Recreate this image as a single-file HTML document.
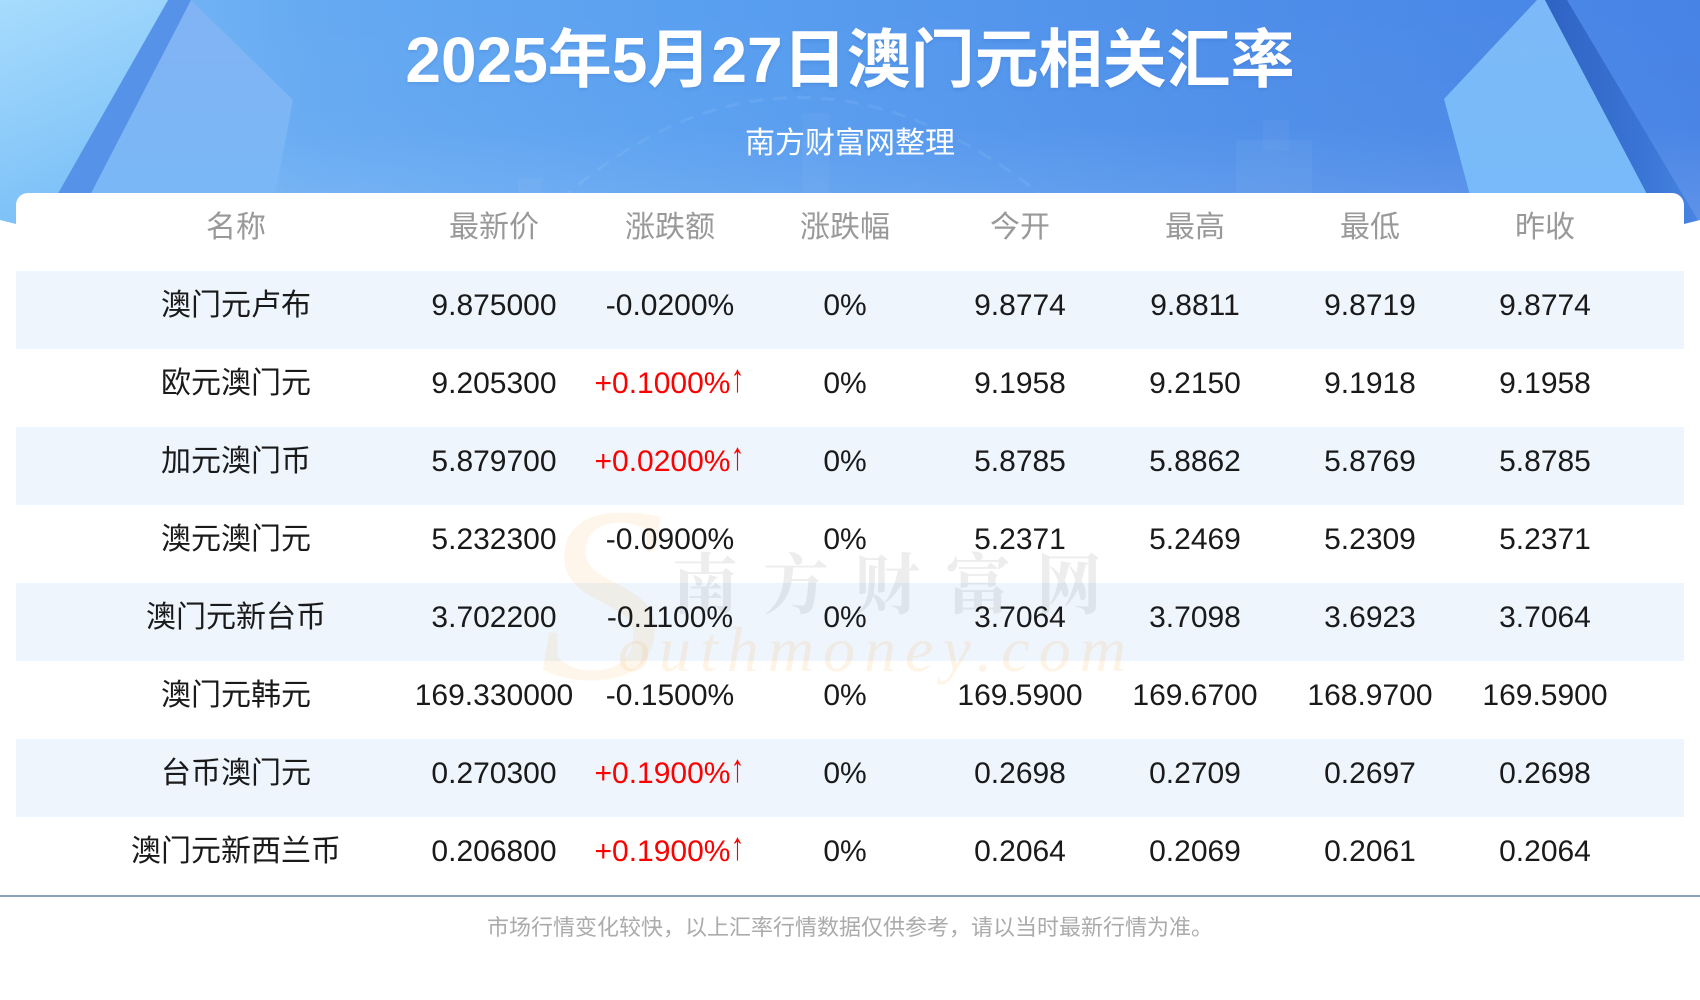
<!DOCTYPE html>
<html>
<head>
<meta charset="utf-8">
<style>
  html, body { margin:0; padding:0; }
  body { width:1700px; height:1000px; position:relative; overflow:hidden; background:#fff;
         font-family:"Liberation Sans","Noto Sans CJK SC",sans-serif; }
  .abs { position:absolute; }
  #title { left:0; width:1700px; top:22px; text-align:center; color:#fff; font-weight:bold;
           font-size:64px; line-height:76px; white-space:nowrap;
           font-family:"Liberation Sans","Noto Sans CJK SC",sans-serif;
           text-shadow:0 2px 3px rgba(20,60,140,0.12); }
  #sub { left:0; width:1700px; top:124px; text-align:center; color:#fff; font-size:30px; line-height:40px;
         font-family:"Liberation Sans","Noto Sans CJK SC",sans-serif; }
  #card { left:16px; top:193px; width:1668px; height:710px; background:#fff; border-radius:12px 12px 0 0; }
  .rowbg { position:absolute; left:16px; width:1668px; height:78px; background:#eef5fd; }
  .row { position:absolute; left:0; width:1700px; height:78px; }
  .c { position:absolute; top:0; width:240px; text-align:center; white-space:nowrap;
       font-size:30px; line-height:70px; color:#1a1a1a; }
  .hd .c { color:#999; }
  .red { color:#ff0000 !important; }
  .ar { display:inline-block; transform:scale(0.9,1.3); transform-origin:50% 70%; }
  .c1 { left:116px; } .c2 { left:374px; } .c3 { left:550px; } .c4 { left:725px; }
  .c5 { left:900px; } .c6 { left:1075px; } .c7 { left:1250px; } .c8 { left:1425px; }
  #line { left:0; top:895px; width:1700px; height:2px; background:#8ba1ba; }
  #foot { left:0; width:1700px; top:906px; height:44px; line-height:44px; text-align:center;
          font-size:22px; color:#ababab; white-space:nowrap; }
  .wm1 { left:672px; top:540px; font-size:66px; letter-spacing:25px; color:rgba(90,90,90,0.11);
         font-family:"Noto Serif CJK SC","Noto Sans CJK SC",serif; font-weight:bold; line-height:80px; white-space:nowrap; }
  .wm2 { left:618px; top:610px; font-size:64px; letter-spacing:9px; color:rgba(250,170,60,0.13);
         font-family:"Liberation Serif",serif; font-style:italic; line-height:80px; white-space:nowrap; }
  .wm3 { left:540px; top:465px; font-size:250px; color:rgba(250,170,60,0.11);
         font-family:"Liberation Serif",serif; font-style:italic; line-height:260px; }
</style>
</head>
<body>
<svg class="abs" style="left:0;top:0" width="1700" height="232" viewBox="0 0 1700 232">
  <defs>
    <linearGradient id="bg" x1="0" y1="0" x2="1" y2="0">
      <stop offset="0" stop-color="#7fc0f7"/>
      <stop offset="0.18" stop-color="#66aaf2"/>
      <stop offset="0.4" stop-color="#5aa0f0"/>
      <stop offset="0.7" stop-color="#4f90ea"/>
      <stop offset="1" stop-color="#4783e5"/>
    </linearGradient>
    <linearGradient id="haze" x1="0" y1="0" x2="0" y2="1">
      <stop offset="0" stop-color="#ffffff" stop-opacity="0"/>
      <stop offset="0.55" stop-color="#ffffff" stop-opacity="0.02"/>
      <stop offset="1" stop-color="#ffffff" stop-opacity="0.14"/>
    </linearGradient>
    <linearGradient id="ll" x1="0" y1="0" x2="0.3" y2="1">
      <stop offset="0" stop-color="#a7dcfd"/>
      <stop offset="1" stop-color="#79bef7"/>
    </linearGradient>
    <linearGradient id="band" x1="0" y1="0" x2="0" y2="1">
      <stop offset="0" stop-color="#82b3f4"/>
      <stop offset="1" stop-color="#78b8f6"/>
    </linearGradient>
    <linearGradient id="rl" x1="0" y1="0" x2="0" y2="1">
      <stop offset="0" stop-color="#7db9f8"/>
      <stop offset="1" stop-color="#77bbf9"/>
    </linearGradient>
    <linearGradient id="ds" x1="0" y1="0" x2="1" y2="0">
      <stop offset="0" stop-color="#2f63c3"/>
      <stop offset="0.6" stop-color="#3a74d4"/>
      <stop offset="1" stop-color="#4a87e5"/>
    </linearGradient>
  </defs>
  <rect x="0" y="0" width="1700" height="232" fill="url(#bg)"/>
  <rect x="0" y="0" width="1700" height="232" fill="url(#haze)"/>
  <rect x="802" y="113" width="27" height="90" fill="#ffffff" opacity="0.04"/>
  <rect x="1236" y="140" width="76" height="60" fill="#ffffff" opacity="0.04"/>
  <rect x="1263" y="120" width="26" height="30" fill="#ffffff" opacity="0.035"/>
  <rect x="518" y="178" width="24" height="30" fill="#ffffff" opacity="0.04"/>
  <path d="M560 200 Q 800 -10 1060 210" fill="none" stroke="#ffffff" stroke-opacity="0.07" stroke-width="3" stroke-dasharray="14 10"/>
  <polygon points="191,0 293,100 268,232 71,232" fill="url(#band)"/>
  <polygon points="168,0 191,0 71,232 36,232" fill="#5592e8"/>
  <polygon points="0,0 168,0 36,232 0,232" fill="url(#ll)"/>
  <polygon points="1537,0 1545,0 1667,232 1480,232 1444,99" fill="url(#rl)"/>
  <polygon points="1545,0 1567,0 1705,232 1667,232" fill="url(#ds)"/>
  <polygon points="0,220 16,224 16,232 0,232" fill="#ffffff"/>
  <polygon points="1684,224 1700,220 1700,232 1684,232" fill="#ffffff"/>
</svg>

<div id="title" class="abs">2025年5月27日澳门元相关汇率</div>
<div id="sub" class="abs">南方财富网整理</div>

<div id="card" class="abs"></div>

<div class="rowbg" style="top:271px"></div>
<div class="rowbg" style="top:427px"></div>
<div class="rowbg" style="top:583px"></div>
<div class="rowbg" style="top:739px"></div>

<div class="abs wm3">S</div>
<div class="abs wm1">南方财富网</div>
<div class="abs wm2">outhmoney.com</div>

<div class="row hd" style="top:193px">
  <div class="c c1">名称</div><div class="c c2">最新价</div><div class="c c3">涨跌额</div><div class="c c4">涨跌幅</div>
  <div class="c c5">今开</div><div class="c c6">最高</div><div class="c c7">最低</div><div class="c c8">昨收</div>
</div>

<div class="row" style="top:271px">
  <div class="c c1">澳门元卢布</div><div class="c c2">9.875000</div><div class="c c3">-0.0200%</div><div class="c c4">0%</div>
  <div class="c c5">9.8774</div><div class="c c6">9.8811</div><div class="c c7">9.8719</div><div class="c c8">9.8774</div>
</div>
<div class="row" style="top:349px">
  <div class="c c1">欧元澳门元</div><div class="c c2">9.205300</div><div class="c c3 red">+0.1000%<span class="ar">↑</span></div><div class="c c4">0%</div>
  <div class="c c5">9.1958</div><div class="c c6">9.2150</div><div class="c c7">9.1918</div><div class="c c8">9.1958</div>
</div>
<div class="row" style="top:427px">
  <div class="c c1">加元澳门币</div><div class="c c2">5.879700</div><div class="c c3 red">+0.0200%<span class="ar">↑</span></div><div class="c c4">0%</div>
  <div class="c c5">5.8785</div><div class="c c6">5.8862</div><div class="c c7">5.8769</div><div class="c c8">5.8785</div>
</div>
<div class="row" style="top:505px">
  <div class="c c1">澳元澳门元</div><div class="c c2">5.232300</div><div class="c c3">-0.0900%</div><div class="c c4">0%</div>
  <div class="c c5">5.2371</div><div class="c c6">5.2469</div><div class="c c7">5.2309</div><div class="c c8">5.2371</div>
</div>
<div class="row" style="top:583px">
  <div class="c c1">澳门元新台币</div><div class="c c2">3.702200</div><div class="c c3">-0.1100%</div><div class="c c4">0%</div>
  <div class="c c5">3.7064</div><div class="c c6">3.7098</div><div class="c c7">3.6923</div><div class="c c8">3.7064</div>
</div>
<div class="row" style="top:661px">
  <div class="c c1">澳门元韩元</div><div class="c c2">169.330000</div><div class="c c3">-0.1500%</div><div class="c c4">0%</div>
  <div class="c c5">169.5900</div><div class="c c6">169.6700</div><div class="c c7">168.9700</div><div class="c c8">169.5900</div>
</div>
<div class="row" style="top:739px">
  <div class="c c1">台币澳门元</div><div class="c c2">0.270300</div><div class="c c3 red">+0.1900%<span class="ar">↑</span></div><div class="c c4">0%</div>
  <div class="c c5">0.2698</div><div class="c c6">0.2709</div><div class="c c7">0.2697</div><div class="c c8">0.2698</div>
</div>
<div class="row" style="top:817px">
  <div class="c c1">澳门元新西兰币</div><div class="c c2">0.206800</div><div class="c c3 red">+0.1900%<span class="ar">↑</span></div><div class="c c4">0%</div>
  <div class="c c5">0.2064</div><div class="c c6">0.2069</div><div class="c c7">0.2061</div><div class="c c8">0.2064</div>
</div>

<div id="line" class="abs"></div>
<div id="foot" class="abs">市场行情变化较快，以上汇率行情数据仅供参考，请以当时最新行情为准。</div>
</body>
</html>
